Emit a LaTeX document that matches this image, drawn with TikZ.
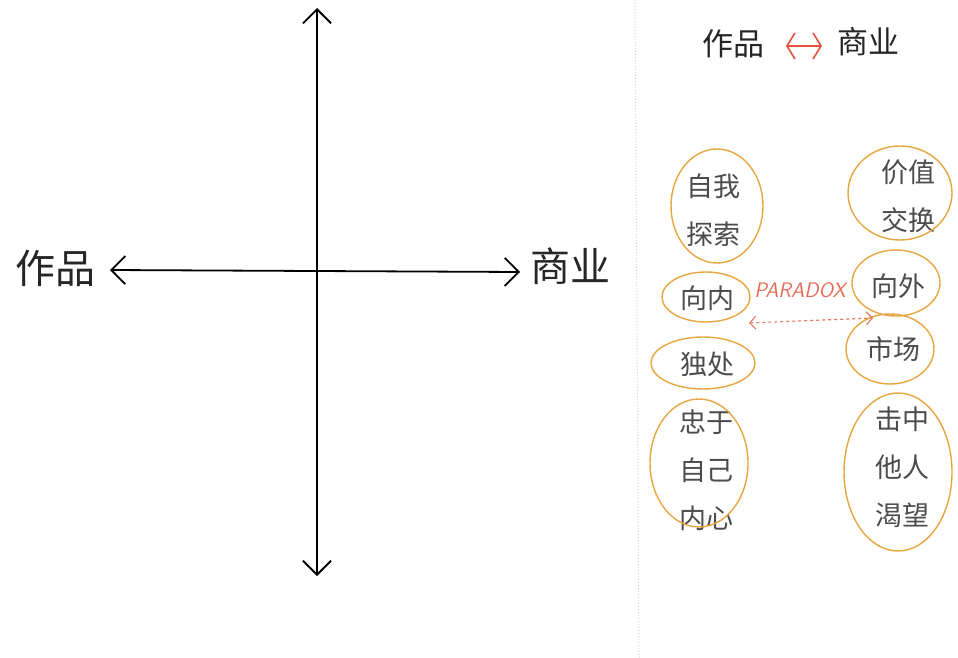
\documentclass[tikz,border=0pt]{standalone}
\usepackage{fontspec}
\newfontfamily\cjk{Noto Sans CJK SC}
\usetikzlibrary{arrows.meta,calc}
\definecolor{ring}{HTML}{E8A640}
\definecolor{redink}{HTML}{E0533A}
\definecolor{divgray}{HTML}{D4D4D4}
\tikzset{
  axis/.style={line width=1.8pt,{Straight Barb[length=14pt,width=28pt,line width=1.8pt]}-{Straight Barb[length=14pt,width=28pt,line width=1.8pt]}},
  axislabel/.style={font=\cjk\fontsize{40}{44}\selectfont, text=black!85},
  titlelabel/.style={font=\cjk\fontsize{31}{34}\selectfont, text=black!85},
  ringline/.style={draw=ring, line width=1.4pt},
  wordtext/.style={font=\cjk\fontsize{27}{48}\selectfont, text=black!70, align=center},
}
\begin{document}
\begin{tikzpicture}[x=1pt,y=-1pt]
\useasboundingbox (0,0) rectangle (958,658);
\fill[white] (0,0) rectangle (958,658);
% left: axes
\coordinate (vt) at (317,8);
\coordinate (vb) at (317,576);
\coordinate (hl) at (110,270);
\coordinate (hr) at (520,272);
\draw[axis] (vt) -- (vb);
\draw[axis] (hl) -- (hr);
\node[axislabel] (work) at (56,268) {作品};
\node[axislabel] (biz) at (570,266) {商业};
% divider
\coordinate (d1) at (635,0);
\coordinate (d2) at (639,658);
\draw[divgray, line width=1pt, dotted] (d1) -- (d2);
% title
\node[titlelabel] (twork) at (733,44) {作品};
\node[titlelabel] (tbiz) at (868,42) {商业};
\coordinate (ta) at (786,46);
\coordinate (tb) at (822,46);
\draw[redink, line width=1.6pt, {Straight Barb[length=8pt,width=26pt,line width=1.6pt]}-{Straight Barb[length=8pt,width=26pt,line width=1.6pt]}] (ta) -- (tb);
% left column
\node[wordtext] (self) at (713,210) {自我\\探索};
\draw[ringline] (717,206) ellipse [x radius=46, y radius=57];
\node[wordtext] (inward) at (707,298) {向内};
\draw[ringline] (706,297) ellipse [x radius=44, y radius=25];
\node[wordtext] (alone) at (707,364) {独处};
\draw[ringline] (703,363) ellipse [x radius=52, y radius=26];
\node[wordtext] (heart) at (706,470) {忠于\\自己\\内心};
\draw[ringline] (699,463) ellipse [x radius=49, y radius=64];
% right column
\node[wordtext] (value) at (908,196) {价值\\交换};
\draw[ringline] (900,193) ellipse [x radius=52, y radius=47];
\node[wordtext] (outward) at (898,286) {向外};
\draw[ringline] (896,283) ellipse [x radius=44, y radius=33];
\node[wordtext] (market) at (893,349) {市场};
\draw[ringline] (890,349) ellipse [x radius=44, y radius=35];
\node[wordtext] (others) at (902,467) {击中\\他人\\渴望};
\draw[ringline] (898,472) ellipse [x radius=54, y radius=79];
% paradox
\node[text=redink!85, font=\sffamily\itshape\fontsize{21}{22}\selectfont] (para) at (800,290) {PARADOX};
\coordinate (pa) at (749,323);
\coordinate (pb) at (873,318);
\draw[redink!80, line width=1.1pt, dashed, {Straight Barb[length=6pt,width=13pt]}-{Straight Barb[length=6pt,width=13pt]}] (pa) -- (pb);
\end{tikzpicture}
\end{document}
